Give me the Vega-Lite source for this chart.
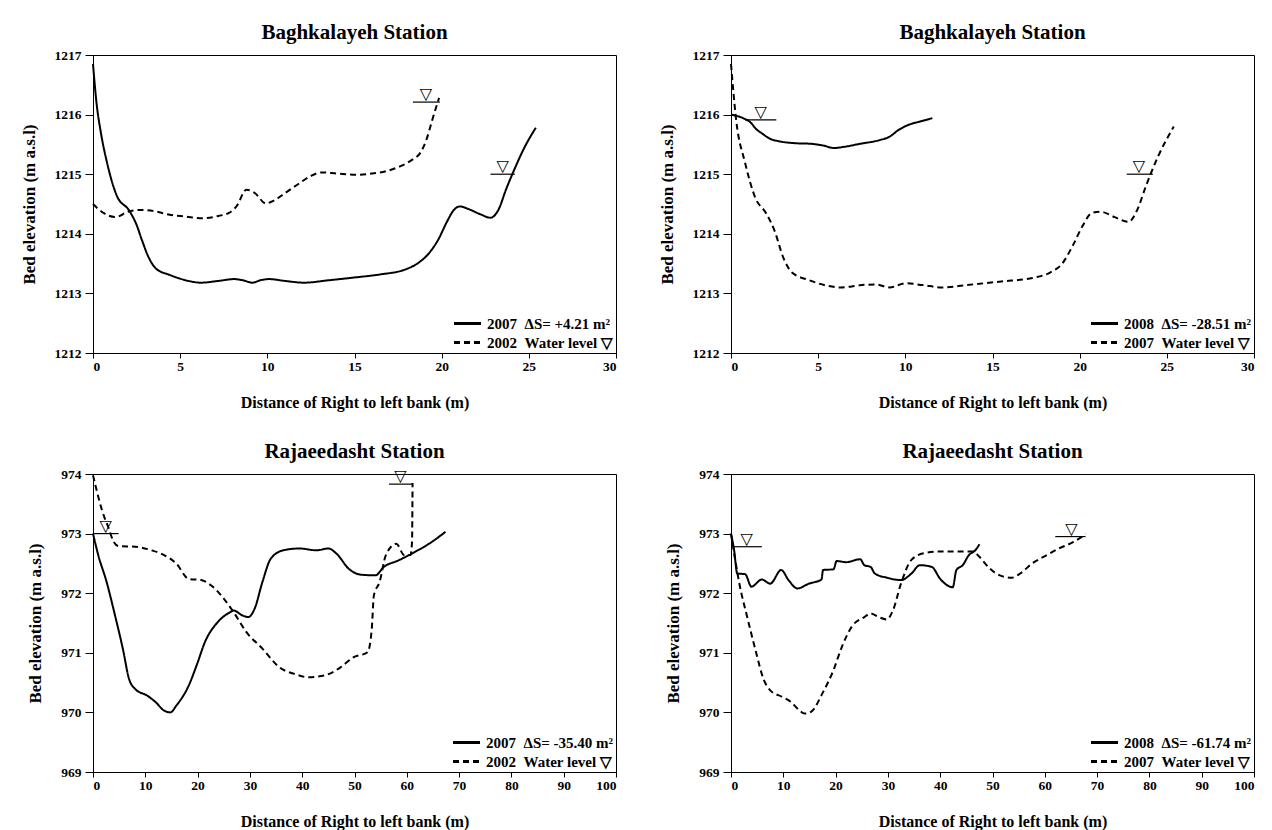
{
  "$schema": "https://vega.github.io/schema/vega-lite/v6.json",
  "background": "white",
  "padding": {"left": 19, "top": 21, "right": 5, "bottom": 2},
  "datasets": {
    "p1": [
      {"d":0,"e":1216.85,"year":"2007"},{"d":0.2,"e":1216.2,"year":"2007"},{"d":0.45,"e":1215.7,"year":"2007"},{"d":0.8,"e":1215.2,"year":"2007"},{"d":1.35,"e":1214.65,"year":"2007"},{"d":2.1,"e":1214.38,"year":"2007"},{"d":2.5,"e":1214.15,"year":"2007"},{"d":2.8,"e":1213.9,"year":"2007"},{"d":3.2,"e":1213.6,"year":"2007"},{"d":3.6,"e":1213.42,"year":"2007"},{"d":4.4,"e":1213.31,"year":"2007"},{"d":5.2,"e":1213.23,"year":"2007"},{"d":6.2,"e":1213.18,"year":"2007"},{"d":7.2,"e":1213.21,"year":"2007"},{"d":8.1,"e":1213.24,"year":"2007"},{"d":8.6,"e":1213.22,"year":"2007"},{"d":9.15,"e":1213.18,"year":"2007"},{"d":9.6,"e":1213.22,"year":"2007"},{"d":10.1,"e":1213.24,"year":"2007"},{"d":11.0,"e":1213.21,"year":"2007"},{"d":12.1,"e":1213.18,"year":"2007"},{"d":13.5,"e":1213.22,"year":"2007"},{"d":15.1,"e":1213.27,"year":"2007"},{"d":16.5,"e":1213.32,"year":"2007"},{"d":17.9,"e":1213.4,"year":"2007"},{"d":18.6,"e":1213.5,"year":"2007"},{"d":19.2,"e":1213.65,"year":"2007"},{"d":19.8,"e":1213.9,"year":"2007"},{"d":20.3,"e":1214.2,"year":"2007"},{"d":20.7,"e":1214.4,"year":"2007"},{"d":21.05,"e":1214.46,"year":"2007"},{"d":21.5,"e":1214.42,"year":"2007"},{"d":22.2,"e":1214.33,"year":"2007"},{"d":22.8,"e":1214.27,"year":"2007"},{"d":23.25,"e":1214.4,"year":"2007"},{"d":23.7,"e":1214.75,"year":"2007"},{"d":24.2,"e":1215.1,"year":"2007"},{"d":24.7,"e":1215.42,"year":"2007"},{"d":25.4,"e":1215.78,"year":"2007"},
      {"d":0,"e":1214.5,"year":"2002"},{"d":0.6,"e":1214.35,"year":"2002"},{"d":1.3,"e":1214.28,"year":"2002"},{"d":2.0,"e":1214.37,"year":"2002"},{"d":2.6,"e":1214.4,"year":"2002"},{"d":3.5,"e":1214.38,"year":"2002"},{"d":4.4,"e":1214.32,"year":"2002"},{"d":5.3,"e":1214.29,"year":"2002"},{"d":6.3,"e":1214.26,"year":"2002"},{"d":7.2,"e":1214.3,"year":"2002"},{"d":7.8,"e":1214.35,"year":"2002"},{"d":8.25,"e":1214.47,"year":"2002"},{"d":8.8,"e":1214.74,"year":"2002"},{"d":9.3,"e":1214.68,"year":"2002"},{"d":9.9,"e":1214.51,"year":"2002"},{"d":10.4,"e":1214.56,"year":"2002"},{"d":11.0,"e":1214.68,"year":"2002"},{"d":11.8,"e":1214.84,"year":"2002"},{"d":12.5,"e":1214.97,"year":"2002"},{"d":13.1,"e":1215.03,"year":"2002"},{"d":14.0,"e":1215.01,"year":"2002"},{"d":15.1,"e":1214.99,"year":"2002"},{"d":16.0,"e":1215.01,"year":"2002"},{"d":16.8,"e":1215.05,"year":"2002"},{"d":17.6,"e":1215.13,"year":"2002"},{"d":18.3,"e":1215.24,"year":"2002"},{"d":18.8,"e":1215.37,"year":"2002"},{"d":19.15,"e":1215.6,"year":"2002"},{"d":19.45,"e":1215.9,"year":"2002"},{"d":19.85,"e":1216.28,"year":"2002"}
    ],
    "w1": [
      {"x1":18.35,"x2":19.9,"xt":19.1,"level":1216.21},
      {"x1":22.8,"x2":24.2,"xt":23.5,"level":1215.0}
    ],
    "p2": [
      {"d":0,"e":1216.0,"year":"2008"},{"d":0.7,"e":1215.94,"year":"2008"},{"d":1.15,"e":1215.86,"year":"2008"},{"d":1.4,"e":1215.77,"year":"2008"},{"d":1.8,"e":1215.68,"year":"2008"},{"d":2.2,"e":1215.6,"year":"2008"},{"d":2.8,"e":1215.55,"year":"2008"},{"d":3.7,"e":1215.52,"year":"2008"},{"d":4.6,"e":1215.51,"year":"2008"},{"d":5.3,"e":1215.48,"year":"2008"},{"d":5.9,"e":1215.44,"year":"2008"},{"d":6.5,"e":1215.46,"year":"2008"},{"d":7.4,"e":1215.51,"year":"2008"},{"d":8.5,"e":1215.57,"year":"2008"},{"d":9.1,"e":1215.63,"year":"2008"},{"d":9.6,"e":1215.74,"year":"2008"},{"d":10.2,"e":1215.83,"year":"2008"},{"d":10.8,"e":1215.88,"year":"2008"},{"d":11.55,"e":1215.94,"year":"2008"},
      {"d":0,"e":1216.85,"year":"2007"},{"d":0.3,"e":1215.9,"year":"2007"},{"d":0.8,"e":1215.2,"year":"2007"},{"d":1.4,"e":1214.6,"year":"2007"},{"d":2.0,"e":1214.35,"year":"2007"},{"d":2.5,"e":1214.05,"year":"2007"},{"d":3.0,"e":1213.6,"year":"2007"},{"d":3.5,"e":1213.35,"year":"2007"},{"d":4.5,"e":1213.22,"year":"2007"},{"d":5.5,"e":1213.13,"year":"2007"},{"d":6.3,"e":1213.1,"year":"2007"},{"d":7.5,"e":1213.14,"year":"2007"},{"d":8.3,"e":1213.15,"year":"2007"},{"d":9.1,"e":1213.1,"year":"2007"},{"d":10.0,"e":1213.17,"year":"2007"},{"d":11.0,"e":1213.14,"year":"2007"},{"d":12.1,"e":1213.1,"year":"2007"},{"d":13.5,"e":1213.14,"year":"2007"},{"d":15.5,"e":1213.2,"year":"2007"},{"d":17.3,"e":1213.26,"year":"2007"},{"d":18.3,"e":1213.35,"year":"2007"},{"d":19.0,"e":1213.5,"year":"2007"},{"d":19.6,"e":1213.8,"year":"2007"},{"d":20.2,"e":1214.15,"year":"2007"},{"d":20.7,"e":1214.35,"year":"2007"},{"d":21.2,"e":1214.37,"year":"2007"},{"d":22.0,"e":1214.28,"year":"2007"},{"d":22.8,"e":1214.2,"year":"2007"},{"d":23.3,"e":1214.4,"year":"2007"},{"d":23.8,"e":1214.8,"year":"2007"},{"d":24.5,"e":1215.3,"year":"2007"},{"d":25.4,"e":1215.8,"year":"2007"}
    ],
    "w2": [
      {"x1":0.8,"x2":2.6,"xt":1.7,"level":1215.91},
      {"x1":22.7,"x2":24.2,"xt":23.4,"level":1215.0}
    ],
    "p3": [
      {"d":0,"e":973.0,"year":"2007"},{"d":1.0,"e":972.64,"year":"2007"},{"d":2.6,"e":972.19,"year":"2007"},{"d":4.2,"e":971.63,"year":"2007"},{"d":5.7,"e":971.07,"year":"2007"},{"d":6.9,"e":970.56,"year":"2007"},{"d":8.1,"e":970.39,"year":"2007"},{"d":10.4,"e":970.28,"year":"2007"},{"d":12.0,"e":970.17,"year":"2007"},{"d":13.6,"e":970.03,"year":"2007"},{"d":14.8,"e":970.0,"year":"2007"},{"d":15.9,"e":970.11,"year":"2007"},{"d":18.3,"e":970.45,"year":"2007"},{"d":19.9,"e":970.81,"year":"2007"},{"d":21.4,"e":971.18,"year":"2007"},{"d":23.8,"e":971.51,"year":"2007"},{"d":26.2,"e":971.68,"year":"2007"},{"d":26.9,"e":971.71,"year":"2007"},{"d":28.5,"e":971.63,"year":"2007"},{"d":29.7,"e":971.6,"year":"2007"},{"d":30.9,"e":971.74,"year":"2007"},{"d":32.4,"e":972.19,"year":"2007"},{"d":34.0,"e":972.58,"year":"2007"},{"d":36.4,"e":972.72,"year":"2007"},{"d":39.5,"e":972.75,"year":"2007"},{"d":42.7,"e":972.72,"year":"2007"},{"d":45.0,"e":972.75,"year":"2007"},{"d":46.6,"e":972.66,"year":"2007"},{"d":48.9,"e":972.41,"year":"2007"},{"d":51.3,"e":972.31,"year":"2007"},{"d":54.0,"e":972.3,"year":"2007"},{"d":55.6,"e":972.44,"year":"2007"},{"d":58.4,"e":972.55,"year":"2007"},{"d":61.5,"e":972.69,"year":"2007"},{"d":64.6,"e":972.85,"year":"2007"},{"d":67.4,"e":973.03,"year":"2007"},
      {"d":0,"e":973.98,"year":"2002"},{"d":0.6,"e":973.76,"year":"2002"},{"d":1.8,"e":973.37,"year":"2002"},{"d":3.0,"e":973.09,"year":"2002"},{"d":3.8,"e":972.89,"year":"2002"},{"d":4.9,"e":972.79,"year":"2002"},{"d":8.1,"e":972.78,"year":"2002"},{"d":11.2,"e":972.72,"year":"2002"},{"d":13.6,"e":972.64,"year":"2002"},{"d":15.9,"e":972.5,"year":"2002"},{"d":18.3,"e":972.24,"year":"2002"},{"d":20.7,"e":972.22,"year":"2002"},{"d":22.6,"e":972.13,"year":"2002"},{"d":25.0,"e":971.91,"year":"2002"},{"d":26.9,"e":971.68,"year":"2002"},{"d":29.3,"e":971.35,"year":"2002"},{"d":32.4,"e":971.07,"year":"2002"},{"d":35.6,"e":970.76,"year":"2002"},{"d":38.7,"e":970.64,"year":"2002"},{"d":41.1,"e":970.59,"year":"2002"},{"d":44.2,"e":970.62,"year":"2002"},{"d":47.4,"e":970.76,"year":"2002"},{"d":49.7,"e":970.92,"year":"2002"},{"d":52.5,"e":971.01,"year":"2002"},{"d":53.3,"e":971.4,"year":"2002"},{"d":53.7,"e":971.96,"year":"2002"},{"d":54.8,"e":972.19,"year":"2002"},{"d":56.0,"e":972.64,"year":"2002"},{"d":58.0,"e":972.83,"year":"2002"},{"d":59.5,"e":972.64,"year":"2002"},{"d":60.7,"e":972.64,"year":"2002"},{"d":61.0,"e":972.86,"year":"2002"},{"d":61.1,"e":973.85,"year":"2002"}
    ],
    "w3": [
      {"x1":0,"x2":4.9,"xt":2.4,"level":973.0},
      {"x1":56.6,"x2":61.1,"xt":58.8,"level":973.83}
    ],
    "p4": [
      {"d":0,"e":973.0,"year":"2008"},{"d":0.6,"e":972.72,"year":"2008"},{"d":1.2,"e":972.33,"year":"2008"},{"d":2.7,"e":972.32,"year":"2008"},{"d":3.9,"e":972.11,"year":"2008"},{"d":5.9,"e":972.23,"year":"2008"},{"d":7.5,"e":972.16,"year":"2008"},{"d":9.6,"e":972.39,"year":"2008"},{"d":11.0,"e":972.22,"year":"2008"},{"d":12.7,"e":972.08,"year":"2008"},{"d":14.9,"e":972.16,"year":"2008"},{"d":17.3,"e":972.23,"year":"2008"},{"d":17.6,"e":972.39,"year":"2008"},{"d":19.6,"e":972.4,"year":"2008"},{"d":20.2,"e":972.54,"year":"2008"},{"d":22.0,"e":972.52,"year":"2008"},{"d":24.7,"e":972.57,"year":"2008"},{"d":25.5,"e":972.47,"year":"2008"},{"d":26.7,"e":972.44,"year":"2008"},{"d":27.5,"e":972.33,"year":"2008"},{"d":29.8,"e":972.26,"year":"2008"},{"d":32.5,"e":972.22,"year":"2008"},{"d":34.5,"e":972.33,"year":"2008"},{"d":36.1,"e":972.47,"year":"2008"},{"d":38.4,"e":972.44,"year":"2008"},{"d":40.0,"e":972.24,"year":"2008"},{"d":42.4,"e":972.1,"year":"2008"},{"d":43.1,"e":972.39,"year":"2008"},{"d":44.3,"e":972.47,"year":"2008"},{"d":45.5,"e":972.64,"year":"2008"},{"d":46.7,"e":972.72,"year":"2008"},{"d":47.5,"e":972.82,"year":"2008"},
      {"d":0,"e":973.0,"year":"2007"},{"d":0.8,"e":972.56,"year":"2007"},{"d":1.6,"e":972.16,"year":"2007"},{"d":3.1,"e":971.6,"year":"2007"},{"d":4.7,"e":971.04,"year":"2007"},{"d":6.3,"e":970.54,"year":"2007"},{"d":7.5,"e":970.37,"year":"2007"},{"d":9.8,"e":970.26,"year":"2007"},{"d":11.4,"e":970.18,"year":"2007"},{"d":12.9,"e":970.05,"year":"2007"},{"d":14.1,"e":969.98,"year":"2007"},{"d":15.3,"e":970.01,"year":"2007"},{"d":17.6,"e":970.34,"year":"2007"},{"d":19.6,"e":970.71,"year":"2007"},{"d":21.2,"e":971.1,"year":"2007"},{"d":23.1,"e":971.44,"year":"2007"},{"d":25.5,"e":971.6,"year":"2007"},{"d":26.7,"e":971.66,"year":"2007"},{"d":28.2,"e":971.6,"year":"2007"},{"d":29.8,"e":971.56,"year":"2007"},{"d":31.0,"e":971.72,"year":"2007"},{"d":32.5,"e":972.16,"year":"2007"},{"d":34.5,"e":972.56,"year":"2007"},{"d":36.9,"e":972.67,"year":"2007"},{"d":40.0,"e":972.7,"year":"2007"},{"d":43.1,"e":972.7,"year":"2007"},{"d":46.3,"e":972.7,"year":"2007"},{"d":47.5,"e":972.61,"year":"2007"},{"d":49.4,"e":972.42,"year":"2007"},{"d":51.4,"e":972.3,"year":"2007"},{"d":53.7,"e":972.26,"year":"2007"},{"d":55.3,"e":972.33,"year":"2007"},{"d":57.6,"e":972.5,"year":"2007"},{"d":60.4,"e":972.64,"year":"2007"},{"d":62.7,"e":972.75,"year":"2007"},{"d":65.5,"e":972.86,"year":"2007"},{"d":67.8,"e":972.99,"year":"2007"}
    ],
    "w4": [
      {"x1":0.4,"x2":5.9,"xt":3.0,"level":972.78},
      {"x1":62,"x2":67.8,"xt":65.1,"level":972.95}
    ]
  },
  "columns": 2,
  "spacing": {"row": 121, "column": 115},
  "bounds": "flush",
  "resolve": {
    "scale": {"x": "independent", "y": "independent", "strokeDash": "independent"},
    "axis": {"x": "independent", "y": "independent"},
    "legend": {"strokeDash": "independent"}
  },
  "concat": [
    {
      "width": 523, "height": 298,
      "title": {"text": "Baghkalayeh Station"},
      "layer": [
        {
          "data": {"name": "p1"},
          "mark": {"type": "line", "color": "black", "strokeWidth": 2, "interpolate": "monotone"},
          "encoding": {
            "x": {"field": "d", "type": "quantitative", "scale": {"domain": [0, 30], "nice": false}, "axis": {"values": [0,5,10,15,20,25,30], "title": "Distance of Right to left bank (m)"}},
            "y": {"field": "e", "type": "quantitative", "scale": {"domain": [1212, 1217], "zero": false, "nice": false}, "axis": {"values": [1212,1212.5,1213,1213.5,1214,1214.5,1215,1215.5,1216,1216.5,1217], "labelExpr": "datum.value % 1 == 0 ? format(datum.value, 'd') : ''", "title": "Bed elevation (m a.s.l)"}},
            "strokeDash": {"field": "year", "type": "nominal", "scale": {"domain": ["2007", "2002"], "range": [[1, 0], [6, 4]]}, "legend": {"labelExpr": "datum.label == '2007' ? '2007\u00a0\u00a0ΔS= +4.21 m²' : '2002\u00a0\u00a0Water level ▽'"}}
          }
        },
        {
          "data": {"name": "w1"},
          "mark": {"type": "rule", "color": "black", "strokeWidth": 1.2},
          "encoding": {"x": {"field": "x1", "type": "quantitative"}, "x2": {"field": "x2"}, "y": {"field": "level", "type": "quantitative"}}
        },
        {
          "data": {"name": "w1"},
          "mark": {"type": "text", "text": "▽", "baseline": "bottom", "font": "DejaVu Sans", "fontSize": 16, "color": "black"},
          "encoding": {"x": {"field": "xt", "type": "quantitative"}, "y": {"field": "level", "type": "quantitative"}}
        }
      ]
    },
    {
      "width": 523, "height": 298,
      "title": {"text": "Baghkalayeh Station"},
      "layer": [
        {
          "data": {"name": "p2"},
          "mark": {"type": "line", "color": "black", "strokeWidth": 2, "interpolate": "monotone"},
          "encoding": {
            "x": {"field": "d", "type": "quantitative", "scale": {"domain": [0, 30], "nice": false}, "axis": {"values": [0,5,10,15,20,25,30], "title": "Distance of Right to left bank (m)"}},
            "y": {"field": "e", "type": "quantitative", "scale": {"domain": [1212, 1217], "zero": false, "nice": false}, "axis": {"values": [1212,1212.5,1213,1213.5,1214,1214.5,1215,1215.5,1216,1216.5,1217], "labelExpr": "datum.value % 1 == 0 ? format(datum.value, 'd') : ''", "title": "Bed elevation (m a.s.l)"}},
            "strokeDash": {"field": "year", "type": "nominal", "scale": {"domain": ["2008", "2007"], "range": [[1, 0], [6, 4]]}, "legend": {"labelExpr": "datum.label == '2008' ? '2008\u00a0\u00a0ΔS= -28.51 m²' : '2007\u00a0\u00a0Water level ▽'"}}
          }
        },
        {
          "data": {"name": "w2"},
          "mark": {"type": "rule", "color": "black", "strokeWidth": 1.2},
          "encoding": {"x": {"field": "x1", "type": "quantitative"}, "x2": {"field": "x2"}, "y": {"field": "level", "type": "quantitative"}}
        },
        {
          "data": {"name": "w2"},
          "mark": {"type": "text", "text": "▽", "baseline": "bottom", "font": "DejaVu Sans", "fontSize": 16, "color": "black"},
          "encoding": {"x": {"field": "xt", "type": "quantitative"}, "y": {"field": "level", "type": "quantitative"}}
        }
      ]
    },
    {
      "width": 523, "height": 298,
      "title": {"text": "Rajaeedasht Station"},
      "layer": [
        {
          "data": {"name": "p3"},
          "mark": {"type": "line", "color": "black", "strokeWidth": 2, "interpolate": "monotone"},
          "encoding": {
            "x": {"field": "d", "type": "quantitative", "scale": {"domain": [0, 100], "nice": false}, "axis": {"values": [0,10,20,30,40,50,60,70,80,90,100], "title": "Distance of Right to left bank (m)"}},
            "y": {"field": "e", "type": "quantitative", "scale": {"domain": [969, 974], "zero": false, "nice": false}, "axis": {"values": [969,969.5,970,970.5,971,971.5,972,972.5,973,973.5,974], "labelExpr": "datum.value % 1 == 0 ? format(datum.value, 'd') : ''", "title": "Bed elevation (m a.s.l)"}},
            "strokeDash": {"field": "year", "type": "nominal", "scale": {"domain": ["2007", "2002"], "range": [[1, 0], [6, 4]]}, "legend": {"labelExpr": "datum.label == '2007' ? '2007\u00a0\u00a0ΔS= -35.40 m²' : '2002\u00a0\u00a0Water level ▽'"}}
          }
        },
        {
          "data": {"name": "w3"},
          "mark": {"type": "rule", "color": "black", "strokeWidth": 1.2},
          "encoding": {"x": {"field": "x1", "type": "quantitative"}, "x2": {"field": "x2"}, "y": {"field": "level", "type": "quantitative"}}
        },
        {
          "data": {"name": "w3"},
          "mark": {"type": "text", "text": "▽", "baseline": "bottom", "font": "DejaVu Sans", "fontSize": 16, "color": "black"},
          "encoding": {"x": {"field": "xt", "type": "quantitative"}, "y": {"field": "level", "type": "quantitative"}}
        }
      ]
    },
    {
      "width": 523, "height": 298,
      "title": {"text": "Rajaeedasht Station"},
      "layer": [
        {
          "data": {"name": "p4"},
          "mark": {"type": "line", "color": "black", "strokeWidth": 2, "interpolate": "monotone"},
          "encoding": {
            "x": {"field": "d", "type": "quantitative", "scale": {"domain": [0, 100], "nice": false}, "axis": {"values": [0,10,20,30,40,50,60,70,80,90,100], "title": "Distance of Right to left bank (m)"}},
            "y": {"field": "e", "type": "quantitative", "scale": {"domain": [969, 974], "zero": false, "nice": false}, "axis": {"values": [969,969.5,970,970.5,971,971.5,972,972.5,973,973.5,974], "labelExpr": "datum.value % 1 == 0 ? format(datum.value, 'd') : ''", "title": "Bed elevation (m a.s.l)"}},
            "strokeDash": {"field": "year", "type": "nominal", "scale": {"domain": ["2008", "2007"], "range": [[1, 0], [6, 4]]}, "legend": {"labelExpr": "datum.label == '2008' ? '2008\u00a0\u00a0ΔS= -61.74 m²' : '2007\u00a0\u00a0Water level ▽'"}}
          }
        },
        {
          "data": {"name": "w4"},
          "mark": {"type": "rule", "color": "black", "strokeWidth": 1.2},
          "encoding": {"x": {"field": "x1", "type": "quantitative"}, "x2": {"field": "x2"}, "y": {"field": "level", "type": "quantitative"}}
        },
        {
          "data": {"name": "w4"},
          "mark": {"type": "text", "text": "▽", "baseline": "bottom", "font": "DejaVu Sans", "fontSize": 16, "color": "black"},
          "encoding": {"x": {"field": "xt", "type": "quantitative"}, "y": {"field": "level", "type": "quantitative"}}
        }
      ]
    }
  ],
  "config": {
    "font": "Liberation Serif",
    "view": {"stroke": "black", "strokeWidth": 1},
    "title": {"font": "Liberation Serif", "fontSize": 21, "fontWeight": "bold", "color": "black", "offset": 5, "anchor": "middle"},
    "axis": {"domainColor": "black", "tickColor": "black", "labelColor": "black", "titleColor": "black", "grid": false, "labelFont": "Liberation Serif", "labelFontSize": 13.5, "labelFontWeight": "bold", "titleFont": "Liberation Serif", "titleFontWeight": "bold"},
    "axisY": {"titlePadding": 16, "tickSize": 8, "labelPadding": 4, "titleFontSize": 17},
    "axisX": {"titlePadding": 22, "tickSize": 5, "labelPadding": 1, "titleFontSize": 16},
    "legend": {"title": null, "orient": "bottom-right", "offset": 2, "symbolType": "M-2.25,0L2.25,0", "symbolSize": 144, "symbolStrokeWidth": 3, "symbolStrokeColor": "black", "symbolFillColor": "transparent", "labelOffset": 12, "labelFont": "Liberation Serif", "labelFontSize": 15, "labelFontWeight": "bold", "labelColor": "black", "rowPadding": 3, "padding": 0}
  }
}
